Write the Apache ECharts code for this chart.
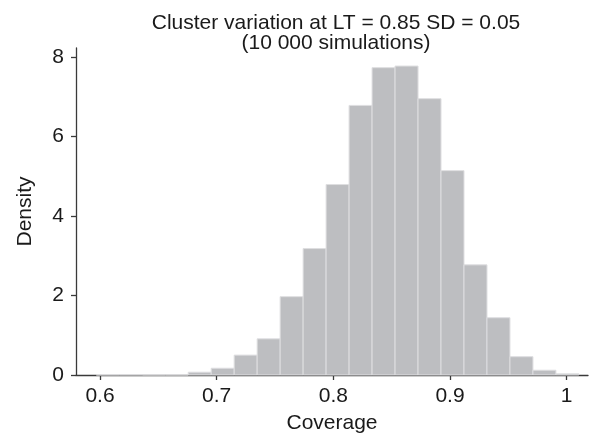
<!DOCTYPE html>
<html>
<head>
<meta charset="utf-8">
<script src="https://cdn.jsdelivr.net/npm/echarts@6/dist/echarts.min.js"></script>
<style>
html,body{margin:0;padding:0;background:#fff;}
#chart{width:589px;height:439px;}
</style>
</head>
<body>
<div id="chart"></div>
<script>
// Histogram bin edges (coverage) and densities
var binEdges = [0.5968, 0.6165, 0.6362, 0.6559, 0.6756, 0.6953, 0.7150, 0.7347, 0.7544, 0.7741, 0.7938,
                0.8135, 0.8332, 0.8529, 0.8726, 0.8923, 0.9120, 0.9317, 0.9514, 0.9711, 0.9908, 1.0105];
var densities = [0.005, 0.005, 0, 0, 0.07, 0.17, 0.50, 0.91, 1.97, 3.18, 4.79,
                 6.78, 7.73, 7.77, 6.95, 5.14, 2.77, 1.44, 0.46, 0.12, 0.03];
var xTicks = [0.6, 0.7, 0.8, 0.9, 1];
var yTicks = [0, 2, 4, 6, 8];
var titleLines = ['Cluster variation at LT = 0.85 SD = 0.05', '(10 000 simulations)'];
var xName = 'Coverage';
var yName = 'Density';

var data = densities.map(function (d, i) { return [binEdges[i], binEdges[i + 1], d]; });

var chart = echarts.init(document.getElementById('chart'), null, { renderer: 'canvas' });
var font = 'Liberation Sans, Arial, Helvetica, sans-serif';
chart.setOption({
  animation: false,
  backgroundColor: '#fff',
  title: {
    text: titleLines.join('\n'),
    left: 331, textAlign: 'center', top: 8,
    textStyle: { fontFamily: font, fontSize: 21, fontWeight: 'normal', color: '#1a1a1a', lineHeight: 20 }
  },
  grid: { left: 76, right: 1, top: 48, bottom: 60, containLabel: false },
  xAxis: {
    type: 'value', min: 0.5794, max: 1.0183,
    name: xName, nameLocation: 'middle', nameGap: 38,
    nameTextStyle: { fontFamily: font, fontSize: 21, color: '#1a1a1a' },
    splitLine: { show: false },
    axisLine: { show: true, lineStyle: { color: '#3a3a3a', width: 1.3 } },
    axisTick: { show: true, length: 5, lineStyle: { color: '#3a3a3a', width: 1.3 }, customValues: xTicks },
    axisLabel: { fontFamily: font, fontSize: 21, color: '#1a1a1a', margin: 11, customValues: xTicks,
      formatter: function (v) { return String(+v.toFixed(2)); } }
  },
  yAxis: {
    type: 'value', min: 0, max: 8.224,
    name: yName, nameLocation: 'middle', nameGap: 40,
    nameTextStyle: { fontFamily: font, fontSize: 21, color: '#1a1a1a' },
    splitLine: { show: false },
    axisLine: { show: true, lineStyle: { color: '#3a3a3a', width: 1.3 } },
    axisTick: { show: true, length: 5, lineStyle: { color: '#3a3a3a', width: 1.3 }, customValues: yTicks },
    axisLabel: { fontFamily: font, fontSize: 21, color: '#1a1a1a', margin: 12, customValues: yTicks }
  },
  series: [{
    type: 'custom',
    data: data,
    encode: { x: [0, 1], y: 2 },
    renderItem: function (params, api) {
      var p0 = api.coord([api.value(0), api.value(2)]);
      var p1 = api.coord([api.value(1), 0]);
      return {
        type: 'rect',
        shape: { x: p0[0], y: p0[1], width: p1[0] - p0[0], height: p1[1] - p0[1] },
        style: { fill: '#bdbec1', stroke: '#dedee0', lineWidth: 1 }
      };
    },
    z: 1
  }]
});
</script>
</body>
</html>
